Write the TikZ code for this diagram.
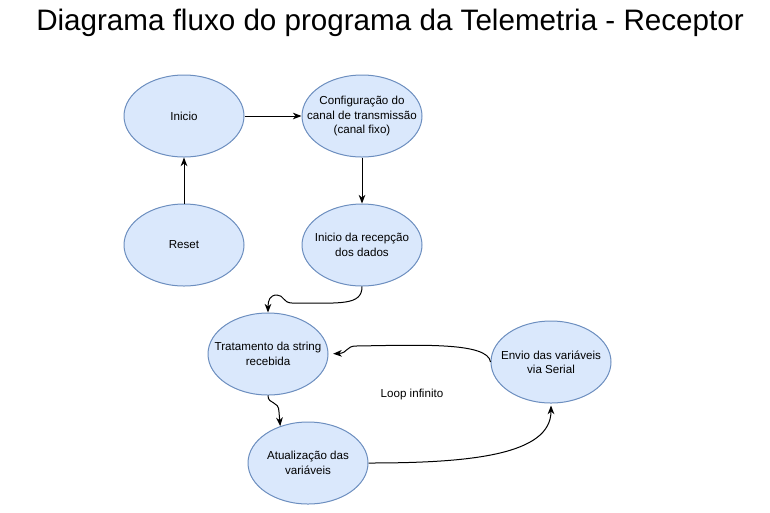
\documentclass[tikz,border=0pt]{standalone}
\usepackage{fontspec}
\setmainfont{Liberation Sans}
\usetikzlibrary{shapes.geometric,arrows.meta}
\definecolor{nodefill}{HTML}{DAE8FC}
\definecolor{nodeline}{HTML}{6C8EBF}
\tikzset{
  stateell/.style={ellipse, draw=nodeline, fill=nodefill, line width=0.75pt,
    minimum width=90pt, minimum height=61.5pt, inner sep=0pt},
  txt/.style={align=center, font=\fontsize{8.7pt}{10.8pt}\selectfont, inner sep=0pt},
  conn/.style={line width=0.75pt, draw=black, -{Stealth[length=6.5pt,width=5pt,inset=2pt]}}
}
\begin{document}
\begin{tikzpicture}[x=0.75pt,y=-0.75pt]
\useasboundingbox (0,0) rectangle (770,512);
\node[font=\fontsize{22.2pt}{26pt}\selectfont, inner sep=0pt] (title) at (390,23) {Diagrama fluxo do programa da Telemetria - Receptor};

\node[stateell, label={[txt]center:Inicio}] (inicio) at (184,116) {};
\node[stateell, label={[txt]center:Configuração do\\canal de transmissão\\(canal fixo)}] (config) at (362,116) {};
\node[stateell, label={[txt]center:Reset}] (reset) at (184,245) {};
\node[stateell, label={[txt]center:Inicio da recepção\\dos dados}] (recep) at (362,245) {};
\node[stateell, label={[txt]center:Tratamento da string\\recebida}] (trat) at (268,354) {};
\node[stateell, label={[txt]center:Envio das variáveis\\via Serial}] (envio) at (551,362) {};
\node[stateell, label={[txt]center:Atualização das\\variáveis}] (atual) at (308,463) {};
\node[txt] (loop) at (412,394) {Loop infinito};

\draw[conn] (inicio) -- (config);
\draw[conn] (reset) -- (inicio);
\draw[conn] (config) -- (recep);
\draw[conn] (recep.south) .. controls (362,306) and (340,303) .. (292,303)
  .. controls (283,303) and (284,295) .. (277,295)
  .. controls (270,295) and (268,300) .. (trat.north);
\draw[conn] (trat.south) .. controls (268,405) and (279,400) .. (279,412)
  -- (atual.127);
\draw[conn, shorten >=3.5pt] (envio.west) .. controls (488,342) and (420,345) .. (356,346)
  .. controls (346,346) and (348,353) .. (trat.east);
\draw[conn, shorten >=1.5pt] (atual.east) .. controls (470,463) and (551,455) .. (envio.south);
\end{tikzpicture}
\end{document}
